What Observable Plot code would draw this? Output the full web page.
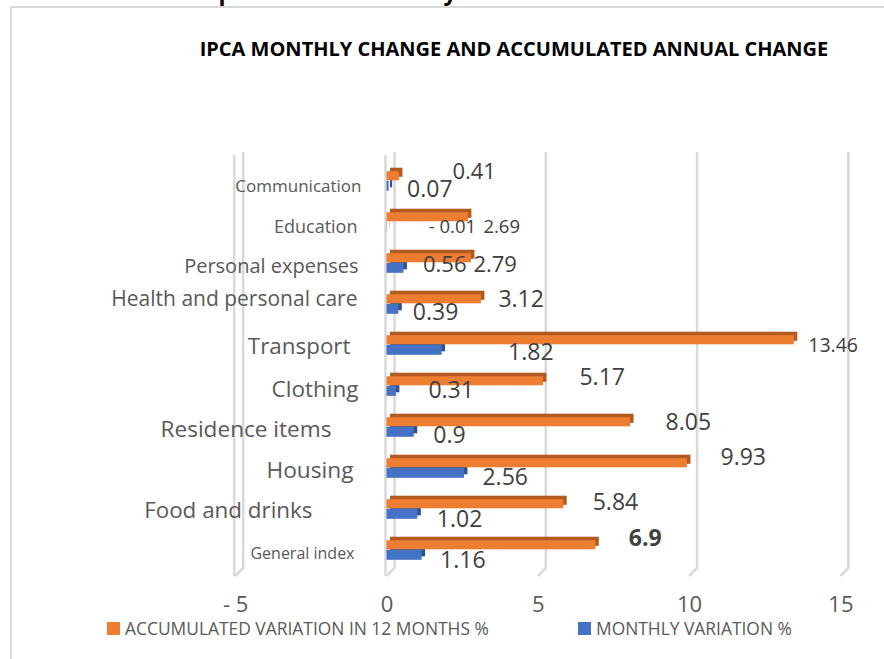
<!DOCTYPE html>
<html>
<head>
<meta charset="utf-8">
<script src="https://cdn.jsdelivr.net/npm/d3@7"></script>
<script src="https://cdn.jsdelivr.net/npm/@observablehq/plot@0.6"></script>
<style>
  body { margin: 0; background: #fff; font-family: "Open Sans", sans-serif; }
  #wrap { position: relative; width: 884px; height: 659px; overflow: hidden; background: #fff; }
  #frame { position: absolute; left: 10px; top: 6px; width: 900px; height: 700px; border: 2px solid #d9d9d9; box-sizing: border-box; }
  #cut { position: absolute; left: 175px; top: -24px; font-size: 23px; line-height: 30px; font-weight: bold; letter-spacing: 0.8px; color: #000; white-space: nowrap; }
  #title { position: absolute; left: 114px; width: 800px; top: 38px; text-align: center; font-size: 20px; line-height: 22px; font-weight: bold; color: #000; white-space: nowrap; }
  #chart { position: absolute; left: 0; top: 0; }
  .leg { position: absolute; top: 618px; display: flex; align-items: center; font-size: 17.4px; line-height: 20px; color: #595959; white-space: nowrap; }
  .leg .sw { width: 13px; height: 13px; margin-right: 5px; }
</style>
</head>
<body>
<div id="wrap">
  <div id="frame"></div>
  <div id="cut">Graph 1 - IPCA monthly and accumulated</div>
  <div id="title"></div>
  <div id="chart"></div>
  <div id="legend"></div>
</div>
<script>
// ---------- data ----------
const titleText = "IPCA MONTHLY CHANGE AND ACCUMULATED ANNUAL CHANGE";
const categories = ["Communication", "Education", "Personal expenses", "Health and personal care", "Transport", "Clothing", "Residence items", "Housing", "Food and drinks", "General index"];
const accumulated = [0.41, 2.69, 2.79, 3.12, 13.46, 5.17, 8.05, 9.93, 5.84, 6.9];
const monthly = [0.07, -0.01, 0.56, 0.39, 1.82, 0.31, 0.9, 2.56, 1.02, 1.16];
const xTicks = [-5, 0, 5, 10, 15];
const seriesNames = ["ACCUMULATED VARIATION IN 12 MONTHS %", "MONTHLY VARIATION %"];

// ---------- style (sizes / offsets of labels, in px) ----------
const colors = { acc: "#ED7D31", accDark: "#B25A1F", mon: "#4472C4", monDark: "#2F528F", grid: "#d9d9d9", cat: "#595959", val: "#404040" };
const catSize = [17, 18, 20, 21, 22.4, 22.5, 22.6, 22.7, 22.4, 16];
const catEnd = [361, 357, 358, 357, 350, 358, 331, 353, 312, 354];
const catDy = [6.6, 6, 5, -4, 3, 4.6, 4, 4, 3, 5];
const accDx = [53, 15, 2, 17, 14, 36, 35, 33, 29, 33];
const accDy = [-8.4, 6.2, 3.3, -3.6, 1.5, -7.4, -3.3, -9.2, -5.1, -10];
const accSize = [22, 18.5, 22, 23, 19.5, 23, 23, 23, 23, 23];
const monDx = [18, 42, 19, 14, 66, 32, 19, 18, 19, 18];
const monDy = [10.1, 6.2, 3.3, 9.9, 8.5, 6.1, 9.2, 10.3, 11.9, 11.5];
const monSize = [23, 18.5, 22, 23, 23, 23, 23, 23, 23, 23];

const fmt = v => v < 0 ? "- " + Math.abs(v) : String(v);

const rows = categories.map((c, i) => ({ category: c, acc: accumulated[i], mon: monthly[i], i }));

const W = 884, H = 659;
const mL = 235.2, mR = 43.6, mT = 156.7, mB = H - 570.7;
const step = (H - mB - mT) / categories.length;
const depth = 3.5;

// gridlines drawn with the plot's x scale (3D wall look)
function grid(index, scales, values, dims) {
  const ns = "http://www.w3.org/2000/svg";
  const g = document.createElementNS(ns, "g");
  const top = dims.marginTop - 4.7, bot = dims.height - dims.marginBottom - 2.7;
  const add = d => {
    const p = document.createElementNS(ns, "path");
    p.setAttribute("d", d);
    p.setAttribute("fill", "none");
    p.setAttribute("stroke", colors.grid);
    p.setAttribute("stroke-width", "2.5");
    g.appendChild(p);
  };
  for (const t of xTicks) {
    const x = scales.x(t);
    add(`M${x + 8},${top}V${bot}L${x},${bot + 8}`);
  }
  for (const t of [xTicks[0], 0]) {
    const x = scales.x(t);
    add(`M${x - 1},${top + 3}V${bot + 8}`);
  }
  return g;
}

const marks = [
  grid,
  // monthly bars (3D: dark extrusion then front)
  Plot.barX(rows, { x1: 0, x2: "mon", y: "category", fill: colors.monDark, insetTop: step / 2 + 1, insetBottom: step / 2 - 11.5, dx: depth, dy: -depth }),
  Plot.barX(rows, { x1: 0, x2: "mon", y: "category", fill: colors.mon, insetTop: step / 2 + 1, insetBottom: step / 2 - 11.5 }),
  // accumulated bars
  Plot.barX(rows, { x1: 0, x2: "acc", y: "category", fill: colors.accDark, insetTop: step / 2 - 8.5, insetBottom: step / 2 - 1, dx: depth, dy: -depth }),
  Plot.barX(rows, { x1: 0, x2: "acc", y: "category", fill: colors.acc, insetTop: step / 2 - 8.5, insetBottom: step / 2 - 1 }),
];

rows.forEach((r, i) => {
  marks.push(Plot.text([r], { y: "category", frameAnchor: "left", text: "category", textAnchor: "end", dx: catEnd[i] - mL, dy: catDy[i], fontSize: catSize[i], fill: colors.cat }));
  marks.push(Plot.text([r], { x: "acc", y: "category", text: d => fmt(d.acc), textAnchor: "start", dx: accDx[i], dy: accDy[i], fontSize: accSize[i], fill: colors.val, fontWeight: r.category === "General index" ? "bold" : "normal" }));
  marks.push(Plot.text([r], { x: "mon", y: "category", text: d => fmt(d.mon), textAnchor: "start", dx: monDx[i], dy: monDy[i], fontSize: monSize[i], fill: colors.val }));
});

const chart = Plot.plot({
  width: W, height: H,
  marginLeft: mL, marginRight: mR, marginTop: mT, marginBottom: mB,
  style: { fontFamily: "Open Sans", fontSize: "22px", color: "#595959", background: "transparent", overflow: "visible" },
  x: { domain: [xTicks[0], xTicks[xTicks.length - 1]], ticks: xTicks, tickFormat: fmt, tickSize: 0, tickPadding: 25, label: null },
  y: { domain: categories, padding: 0, axis: null },
  marks
});
document.getElementById("chart").appendChild(chart);

document.getElementById("title").textContent = titleText;

const legend = document.getElementById("legend");
[[seriesNames[0], colors.acc, 107], [seriesNames[1], colors.mon, 578]].forEach(([name, col, left]) => {
  const item = document.createElement("div");
  item.className = "leg";
  item.style.left = left + "px";
  const sw = document.createElement("span");
  sw.className = "sw";
  sw.style.background = col;
  const tx = document.createElement("span");
  tx.textContent = name;
  item.appendChild(sw);
  item.appendChild(tx);
  legend.appendChild(item);
});
</script>
</body>
</html>
